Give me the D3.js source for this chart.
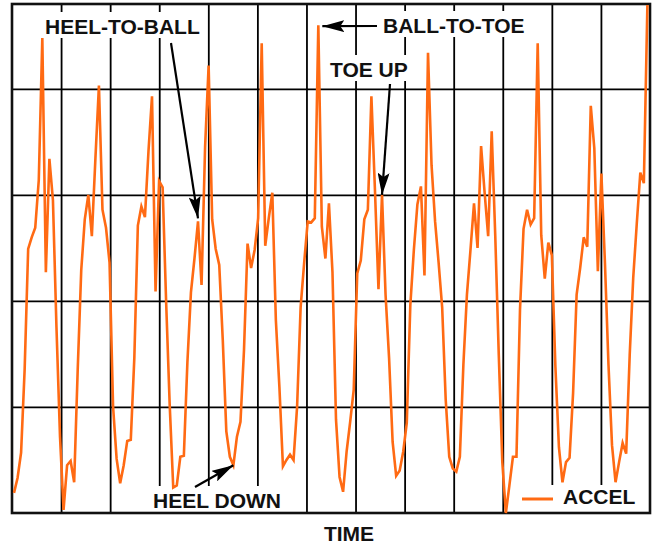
<!DOCTYPE html>
<html lang="en">
<head>
  <meta charset="UTF-8">
  <title>ACCEL</title>
  <script src="https://d3js.org/d3.v7.min.js"></script>
  <style>
    body { margin: 0; background: #fff; }
    svg text { font-family: "Liberation Sans", Arial, sans-serif; font-weight: bold; font-size: 21px; fill: #111; }
  </style>
</head>
<body>
<script>
  // accelerometer trace, one value per sample (in grid divisions)
  var accel = [
    0.19,0.33,0.57,1.35,2.49,2.60,2.69,3.14,4.48,2.27,
    3.34,2.95,1.75,0.72,0.03,0.45,0.49,0.29,1.35,2.29,
    2.77,3.00,2.61,3.34,4.03,2.86,2.69,2.36,1.00,0.51,
    0.28,0.45,0.68,0.69,1.46,2.71,2.89,2.79,3.41,3.93,
    2.09,3.13,3.07,1.98,1.02,0.24,0.26,0.53,0.54,1.42,
    2.08,2.40,2.75,2.15,3.45,4.22,2.77,2.49,2.34,1.63,
    0.77,0.53,0.45,0.72,0.86,1.54,2.54,2.31,2.48,2.78,
    4.43,2.52,2.78,3.02,1.82,1.19,0.44,0.50,0.55,0.50,
    1.00,1.94,2.36,2.75,2.74,2.78,4.60,2.70,2.40,2.92,
    2.27,0.88,0.34,0.20,0.58,0.86,1.16,2.26,2.38,2.77,
    2.86,3.93,3.05,2.11,3.00,2.06,1.46,0.67,0.35,0.40,
    0.58,0.85,1.96,2.48,2.91,3.08,2.24,4.34,3.28,2.75,
    2.36,1.94,1.07,0.53,0.42,0.39,0.53,1.40,2.06,2.48,
    2.92,2.50,3.46,3.02,2.61,3.60,2.62,1.49,0.48,0.00,
    0.26,0.53,0.53,1.92,2.68,2.86,2.72,2.78,4.43,2.62,
    2.21,2.55,2.43,1.38,0.62,0.29,0.48,0.52,1.13,2.06,
    2.31,2.60,2.51,3.84,3.44,2.28,3.20,2.36,1.40,0.64,
    0.29,0.48,0.66,0.56,1.49,2.22,2.73,3.21,3.11,4.79
  ];
  var startTime = 0.041;   // time of first sample (grid divisions)
  var sampleStep = 0.0721; // time between samples
  var timeTicks = [1,2,3,4,5,6,7,8,9,10,11,12];
  var accelTicks = [1,2,3,4];
  var xTitle = 'TIME';
  var seriesName = 'ACCEL';
  // callouts: label text and the sample index the arrow points at
  var noteText = ['HEEL-TO-BALL', 'BALL-TO-TOE', 'TOE UP', 'HEEL DOWN'];
  var noteTarget = [52, 86, 104, 62];

  var width = 659, height = 545;
  var plot = {left: 12, right: 650, top: 4, bottom: 513};
  var orange = '#ff6a13';

  var svg = d3.select('body').append('svg').attr('width', width).attr('height', height);

  var x = d3.scaleLinear().domain([0, 13]).range([plot.left, plot.right]);
  var y = d3.scaleLinear().domain([0, 4.8]).range([plot.bottom, plot.top]);

  var gGrid = svg.append('g');
  var gBox = svg.append('g');
  var gFrame = svg.append('g');
  var gLine = svg.append('g');
  var gNotes = svg.append('g');

  // grid lines from the axes
  gGrid.append('g')
    .attr('transform', 'translate(0,' + plot.bottom + ')')
    .call(d3.axisBottom(x).tickValues(timeTicks).tickSize(-(plot.bottom - plot.top)).tickFormat(''));
  gGrid.append('g')
    .attr('transform', 'translate(' + plot.left + ',0)')
    .call(d3.axisLeft(y).tickValues(accelTicks).tickSize(-(plot.right - plot.left)).tickFormat(''));
  gGrid.selectAll('.domain').remove();
  gGrid.selectAll('.tick line').attr('stroke', '#000').attr('stroke-width', 1.8);

  gFrame.append('rect')
    .attr('x', plot.left).attr('y', plot.top)
    .attr('width', plot.right - plot.left).attr('height', plot.bottom - plot.top)
    .attr('fill', 'none').attr('stroke', '#111').attr('stroke-width', 2.6);

  // the trace
  var line = d3.line()
    .x(function(d, i) { return x(startTime + i * sampleStep); })
    .y(function(d) { return y(d); });
  gLine.append('path')
    .datum(accel)
    .attr('d', line)
    .attr('fill', 'none')
    .attr('stroke', orange)
    .attr('stroke-width', 2.6);

  // arrow head
  svg.append('defs').append('marker')
    .attr('id', 'head')
    .attr('markerUnits', 'userSpaceOnUse')
    .attr('viewBox', '0 0 22 12')
    .attr('refX', 22).attr('refY', 6)
    .attr('markerWidth', 22).attr('markerHeight', 12)
    .attr('orient', 'auto')
    .append('path').attr('d', 'M0,0L22,6L0,12L4,6Z').attr('fill', '#000');

  // label placement (pixels) and arrow tails
  var notePos = [[45, 34], [383, 33], [330, 77], [153, 508]];
  var noteTail = [[171, 43], [377, 26], [390, 84], [195, 487]];
  var tipShift = [[0, -3], [4, 1], [0, 0], [0, 0]];

  function boxed(txt, px, py, padX, padTop, padBottom) {
    var t = gNotes.append('text').attr('x', px).attr('y', py).text(txt);
    var b = t.node().getBBox();
    gBox.append('rect')
      .attr('x', b.x - padX).attr('y', b.y - padTop)
      .attr('width', b.width + 2 * padX).attr('height', b.height + padTop + padBottom)
      .attr('fill', '#fff');
    return t;
  }

  noteText.forEach(function(txt, k) {
    var i = noteTarget[k];
    var tx = x(startTime + i * sampleStep) + tipShift[k][0];
    var ty = y(accel[i]) + tipShift[k][1];
    gNotes.append('line')
      .attr('x1', noteTail[k][0]).attr('y1', noteTail[k][1])
      .attr('x2', tx).attr('y2', ty)
      .attr('stroke', '#000').attr('stroke-width', 2.2)
      .attr('marker-end', 'url(#head)');
    boxed(txt, notePos[k][0], notePos[k][1], 3, 3, k === 3 ? 4 : 0);
  });

  // legend
  boxed(seriesName, 563, 504, 4, 0, 4);
  gBox.append('rect').attr('x', 516).attr('y', 485).attr('width', 50).attr('height', 28).attr('fill', '#fff');
  gNotes.append('line')
    .attr('x1', 522).attr('x2', 553).attr('y1', 499).attr('y2', 499)
    .attr('stroke', orange).attr('stroke-width', 3);

  // axis title
  svg.append('text')
    .attr('x', 349).attr('y', 541)
    .attr('text-anchor', 'middle')
    .text(xTitle);
</script>
</body>
</html>
